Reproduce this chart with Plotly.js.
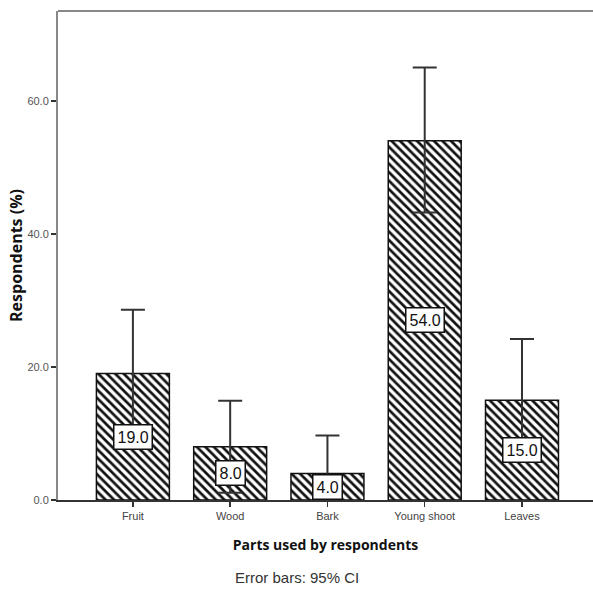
<!DOCTYPE html>
<html>
<head>
<meta charset="utf-8">
<script src="https://cdn.plot.ly/plotly-3.0.1.min.js"></script>
<style>
  html, body { margin: 0; padding: 0; background: #fff; }
  #chart { width: 593px; height: 589px; }
</style>
</head>
<body>
<div id="chart"></div>
<script>
// Plant parts used by respondents (% of respondents), with 95% CI error bars
const parts = ["Fruit", "Wood", "Bark", "Young shoot", "Leaves"];
const percent = [19.0, 8.0, 4.0, 54.0, 15.0];
const ciUpper = [9.6, 6.9, 5.7, 11.0, 9.2];
const ciLower = [9.6, 6.9, 5.7, 10.8, 9.2];
const yTicks = [0, 20, 40, 60];

const plain = "'Liberation Sans', Arial, sans-serif";
const boldFace = "'Open Sans', 'Noto Sans', Arial, sans-serif";

const bars = {
  type: "bar",
  x: parts,
  y: percent,
  width: 0.75,
  marker: {
    color: "#ffffff",
    line: { color: "#111111", width: 1.5 },
    pattern: { shape: "\\", fgcolor: "#111111", bgcolor: "#ffffff", size: 6, solidity: 0.45 }
  },
  error_y: {
    type: "data",
    symmetric: false,
    array: ciUpper,
    arrayminus: ciLower,
    color: "#333333",
    thickness: 2,
    width: 12
  },
  hoverinfo: "x+y"
};

// value boxes placed at the middle of each bar
const valueLabels = parts.map((p, i) => ({
  x: p,
  y: percent[i] / 2,
  xref: "x",
  yref: "y",
  text: percent[i].toFixed(1),
  showarrow: false,
  bgcolor: "#ffffff",
  bordercolor: "#111111",
  borderwidth: 1.5,
  borderpad: 3,
  font: { family: plain, size: 16, color: "#111111" }
}));

const layout = {
  width: 593,
  height: 589,
  margin: { l: 58, r: 0, t: 11, b: 89 },
  paper_bgcolor: "#ffffff",
  plot_bgcolor: "#ffffff",
  showlegend: false,
  bargap: 0.25,
  xaxis: {
    type: "category",
    range: [-0.77, 4.73],
    showline: true,
    linecolor: "#333333",
    linewidth: 1.5,
    ticks: "outside",
    ticklen: 5,
    tickwidth: 1.5,
    tickcolor: "#333333",
    showgrid: false,
    zeroline: false,
    tickfont: { family: plain, size: 11, color: "#444444" },
    title: {
      text: "Parts used by respondents",
      font: { family: boldFace, size: 14, color: "#111111", weight: "bold" },
      standoff: 19
    }
  },
  yaxis: {
    range: [0, 73.5],
    tickvals: yTicks,
    tickformat: ".1f",
    showline: true,
    linecolor: "#888888",
    linewidth: 2,
    ticks: "outside",
    ticklen: 5,
    tickwidth: 1.5,
    tickcolor: "#333333",
    showgrid: false,
    zeroline: false,
    tickfont: { family: plain, size: 11, color: "#555555" },
    title: {
      text: "Respondents (%)",
      font: { family: boldFace, size: 16, color: "#111111", weight: "bold" },
      standoff: 0
    }
  },
  shapes: [
    { type: "line", xref: "paper", yref: "paper", x0: 0, x1: 1, y0: 1, y1: 1,
      line: { color: "#888888", width: 2 } }
  ],
  annotations: valueLabels.concat([
    {
      xref: "paper", yref: "paper",
      x: 0.327, y: -0.1595,
      xanchor: "left", yanchor: "middle",
      text: "Error bars: 95% CI",
      showarrow: false,
      font: { family: plain, size: 15, color: "#333333" }
    }
  ])
};

Plotly.newPlot("chart", [bars], layout, { displayModeBar: false, staticPlot: true });
</script>
</body>
</html>
